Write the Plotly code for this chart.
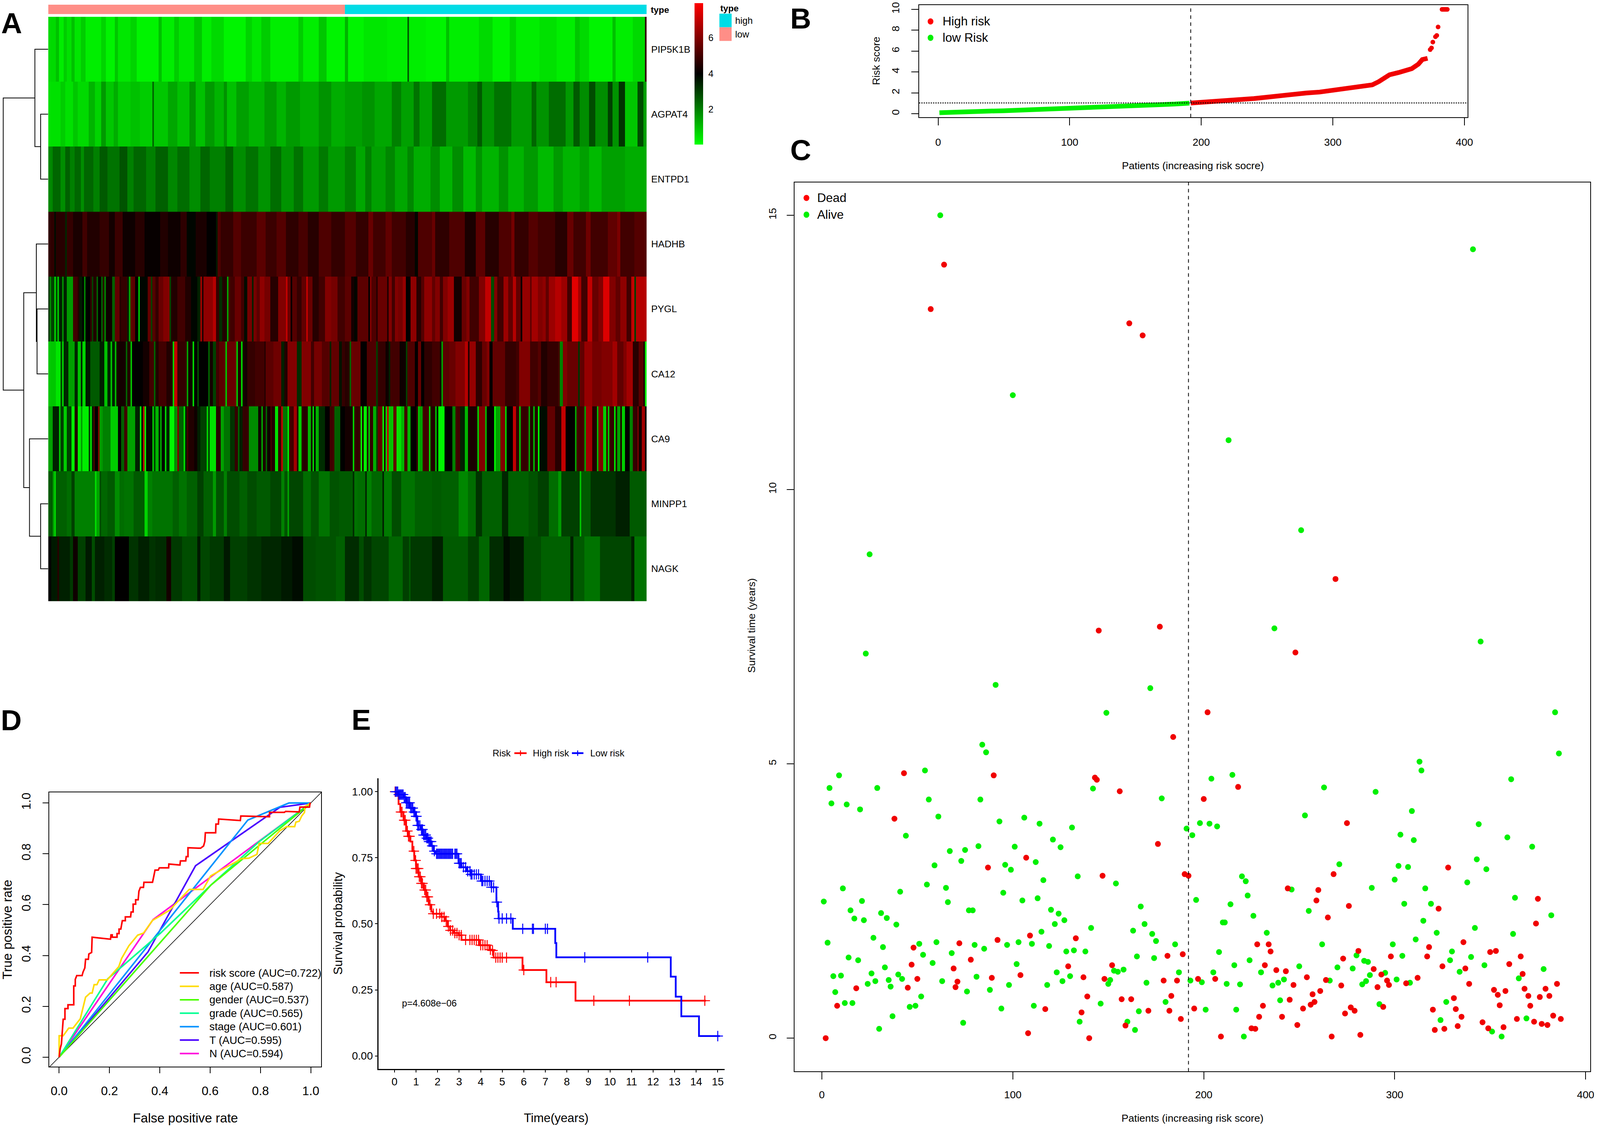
import numpy as np
import plotly.graph_objects as go
from bisect import bisect_right

# positions below are in reference pixels (4433 wide); the browser screen stops at 4096, so the figure is drawn that wide
W, H = 4433, 2882
FIG_W = 4096
FS = 0.95
FONT = "Liberation Sans"

# A: heatmap. Each gene is read as stripes (value, number of patients), low risk half then high risk half
genes = ["PIP5K1B", "AGPAT4", "ENTPD1", "HADHB", "PYGL", "CA12", "CA9", "MINPP1", "NAGK"]
n_low, n_high = 191, 194

pip5k1b_low = [(.6,4),(1,2),(.3,3),(.8,2),(.5,3),(1,2),(.4,4),(.8,3),(.3,10),(.7,3),(.2,6),(.9,2),(.4,8),(.7,4),(.2,14),(1,2),(.3,8),(.8,3),(.4,10),(.9,4),(.3,6),(.6,8),(.2,14),(.7,4),(.4,6),(.8,6),(.3,18),(.8,3),(.3,10),(.9,5),(.2,12)]
pip5k1b_high = [(1.2,1),(.2,10),(.4,14),(.3,12),(2.6,1),(.3,10),(.2,12),(1,2),(.3,18),(.6,8),(.2,10),(.7,4),(.3,14),(.5,10),(.3,12),(.9,2),(.6,6),(.2,14),(1,2),(.3,10),(.6,8),(4.8,1)]
agpat4_low = [(.5,8),(.8,3),(.5,5),(.9,3),(.6,7),(1.2,4),(.7,4),(1.6,3),(.9,6),(1.3,3),(.8,8),(1,6),(.8,8),(2.4,1),(.9,10),(1.4,6),(1,8),(1.7,4),(1,6),(1.6,6),(1.2,6),(1.7,3),(1,6),(1.5,8),(1.2,10),(1.6,8),(1.2,6),(1.6,10),(1.3,12),(1.7,8),(1.3,10)]
agpat4_high = [(1.5,8),(1.7,6),(1.4,8),(2,4),(1.5,6),(2.2,3),(1.5,6),(2.3,7),(1.6,10),(2,5),(2.6,2),(1.7,6),(2.2,8),(1.6,10),(2.4,2),(1.7,6),(2.3,8),(1.6,4),(2.6,3),(1.8,4),(2.8,3),(1.8,6),(3,2),(1.7,3),(3.2,3),(.9,6),(2.8,3),(1.5,2)]
entpd1_low = [(1.9,3),(2.4,5),(1.8,3),(2.5,3),(2,3),(2.4,4),(1.8,2),(2.4,6),(2,4),(2.6,5),(2.2,8),(2.7,6),(2,4),(2.4,8),(2,6),(2.5,8),(1.9,6),(2.3,8),(1.8,8),(2.4,6),(2,10),(2.5,5),(1.8,8),(2.2,8),(1.7,8),(2.3,8),(1.7,8),(2.2,6),(1.6,10),(2.1,6),(1.6,12)]
entpd1_high = [(2,6),(1.4,6),(2,4),(1.5,8),(1.9,6),(1.4,8),(1.9,4),(1.3,10),(1.8,6),(1.2,8),(1.8,6),(1.1,8),(1.7,4),(1.2,10),(1.7,6),(1.2,10),(1.6,8),(1.1,10),(1.6,6),(1.2,10),(1.5,6),(1.1,8),(1.5,14),(1.3,14)]
hadhb_low = [(4.7,4),(3.8,1),(4.6,6),(3.4,1),(4.8,4),(4.4,6),(5,4),(4.5,8),(4.8,6),(4.3,4),(4.9,6),(4.2,8),(4.6,6),(4.1,10),(4.5,6),(4.2,8),(4.7,4),(3.9,6),(4.4,8),(4,6),(3.6,1),(5.2,2),(4.8,8),(5.3,6),(4.9,10),(5.4,6),(4.9,8),(5.3,6),(4.7,8),(5.1,6),(4.6,8),(5.2,8),(4.8,10)]
hadhb_high = [(5.3,6),(4.8,8),(5.6,2),(5,8),(5.5,4),(5,8),(4.6,6),(3.9,2),(5.2,8),(5.6,2),(4.7,8),(5.2,10),(4.4,6),(5.4,6),(4.6,8),(5.2,8),(5.8,2),(4.8,8),(5.3,6),(5,10),(4.6,8),(5.6,3),(5,8),(5.7,3),(5,10),(5.5,6),(5.9,2),(5,8),(5.3,8)]
pygl_low = [(3.3,1),(2,1),(3,2),(.8,1),(3,1),(1,1),(3.5,2),(1.8,1),(3.5,2),(1.6,4),(5,3),(4.5,1),(3.6,2),(4,1),(2,1),(4,3),(4.8,1),(3,1),(4.5,2),(2.5,1),(4,2),(2.5,1),(4.6,1),(2,1),(4.2,4),(2.5,2),(5.5,3),(4.6,1),(4.8,4),(3.5,1),(1.5,1),(5.4,3),(4,2),(1,1),(3.9,5),(5.5,2),(3,1),(5.3,2),(4.8,2),(5.6,3),(6,4),(3,1),(4.5,4),(5,5),(4.5,4),(3.9,4),(3.5,2),(6.5,1),(4.5,1),(6.2,6),(6.8,2),(4.8,2),(3.3,2),(4.5,3),(1.5,1),(5,4),(5.6,4),(5,2),(3.8,2),(5.8,3),(3.5,1),(5.8,2),(5.4,2),(6.2,3),(5.8,2),(5.8,2),(4.6,5),(6,5),(7,1),(5.6,2),(4,1),(5.3,3),(4.8,3),(5.5,3),(7,1),(5.6,3),(4.6,4),(5,4),(6,4),(5.8,4),(5,5)]
pygl_high = [(5.4,4),(4.3,2),(3.9,2),(5.4,7),(4,1),(6,1),(5.2,3),(4.6,1),(5.6,6),(4.5,1),(6,2),(5,2),(6,2),(5.8,3),(6.3,2),(4,3),(6.2,4),(4.6,3),(5.3,2),(6.2,5),(5.5,2),(6,3),(5,2),(6,3),(6.4,4),(4.3,5),(5.6,3),(6,2),(5,6),(6,4),(7,4),(2.8,2),(6,3),(5,4),(6.4,3),(5.5,3),(6.8,2),(5.5,3),(4,1),(6.3,5),(5.5,1),(6.5,4),(6,3),(6.2,2),(5.5,2),(6.4,4),(6.8,4),(6.4,4),(5,3),(7.5,4),(6.5,2),(5,4),(7,3),(5.6,4),(6,3),(7.4,4),(6,4),(5.5,3),(6.2,4),(5,3),(7,2),(3,1),(6.8,8)]
ca12_low = [(.9,4),(.4,3),(3,1),(.8,1),(3.4,3),(1.5,4),(3.4,2),(1,2),(3.5,1),(.7,2),(3.6,3),(2.6,6),(3.5,3),(1,2),(3.4,2),(1,1),(3.5,2),(1.2,1),(4.3,6),(2.5,1),(4.5,2),(1,1),(4,7),(4.3,4),(5,3),(2.5,1),(4.5,2),(5,5),(4.5,4),(.8,1),(7,2),(4.8,6),(1.5,1),(4.2,3),(.7,1),(4,2),(2.8,1),(4,6),(2.5,1),(4.3,2),(3,2),(5,2),(5.4,4),(1,1),(5.6,6),(1,1),(4.5,2),(.7,1),(4.3,3),(4.8,5),(5,6),(4.5,1),(5.4,5),(5.7,5),(3.5,2),(4.5,2),(6,6),(3.3,3),(6,6),(5,2),(5.8,5),(5.3,5),(3.5,1),(5.5,5),(3.7,2),(4.8,2)]
ca12_high = [(4.6,3),(2.5,1),(5.6,6),(4,4),(5.2,6),(3,1),(4.8,5),(4.2,2),(3.5,1),(5,6),(4.2,4),(3,1),(5.2,5),(4,2),(5.6,2),(4,2),(4.7,5),(5,5),(4.2,1),(1.5,1),(5.4,4),(5.6,4),(6,6),(6.8,2),(4.5,1),(6.3,4),(4.7,4),(5.6,3),(6,2),(4,2),(5.5,8),(4.8,7),(5,2),(6,7),(5,5),(5.3,2),(4.5,4),(4.8,7),(5,1),(2,2),(6,3),(5.6,7),(3.2,1),(5.5,3),(6.3,5),(5.8,6),(6,7),(6.5,3),(5.5,4),(6,2),(6.5,4),(4.6,4),(5.4,3),(4.4,1),(.2,1)]
ca9_low = [(1.5,2),(3.5,4),(1,1),(3,2),(.8,2),(3,3),(.3,2),(4.5,2),(.3,2),(1.5,1),(.3,4),(3,1),(.5,1),(3.5,1),(5,1),(4,2),(6,1),(1.6,2),(2,5),(.8,5),(4,2),(2.5,2),(5,2),(1.5,5),(3.5,3),(.3,1),(4,1),(7,1),(.5,1),(3.8,3),(1,1),(3,1),(1.2,2),(3.5,1),(1.5,1),(4,2),(.8,1),(3.5,2),(.1,3),(1.8,2),(6,1),(2.5,3),(.6,1),(3.5,1),(5,1),(4.5,4),(4.2,2),(3.5,2),(3,4),(.8,1),(3,1),(.5,4),(4.6,3),(1.5,2),(2.2,4),(3.2,3),(4.8,2),(2.5,1),(3.5,2),(4.8,3),(1.8,6),(4.2,2),(1.5,1),(4.4,2),(2.5,1),(4.2,2),(5,1),(4.5,2),(.5,2),(4.8,2),(7,1),(2.2,3),(.4,1),(5,3),(6.5,2),(4.5,1),(.8,2),(4.6,4),(1.2,2),(4.3,1),(.8,1),(4,1),(1.3,2),(3.3,4),(4,3),(5,3),(2.5,4),(4,3)]
ca9_high = [(4.3,4),(.8,1),(4.8,4),(.2,1),(4.5,1),(.3,2),(4.5,1),(1,1),(4.8,2),(1.3,2),(3,1),(5.5,3),(.3,1),(4.5,1),(.8,1),(7,1),(1,3),(5.5,2),(.5,3),(1.2,2),(5,2),(1.2,2),(4,4),(4.8,1),(1,1),(1.5,1),(5,4),(.8,1),(4.5,3),(1.2,1),(4,1),(.2,4),(4,5),(2,2),(5,3),(3.5,3),(1.2,2),(4.4,6),(.8,1),(6,4),(1.2,1),(4,5),(.2,1),(1.5,2),(6,3),(.8,1),(4,4),(7,2),(4.8,2),(1,1),(4.8,5),(1.5,1),(4.5,2),(1.2,1),(4.5,2),(.2,1),(3.8,5),(5.5,5),(4.6,4),(7,3),(4,5),(1.5,1),(5,5),(1.5,1),(6.5,4),(4.5,3),(1.2,1),(6,3),(.8,2),(5,1),(1,1),(4.8,3),(.5,1),(4.5,1),(1.5,2),(4.5,1),(.8,2),(4,3),(2,2),(4.8,3),(6,1),(4.3,2),(6.5,2),(4,1)]
minpp1_low = [(2.6,3),(1.5,1),(.7,1),(2.5,7),(2.3,3),(3,2),(2,13),(.6,1),(1.5,2),(2.8,1),(2.4,4),(2.6,5),(1.8,3),(2.3,3),(2.2,6),(2.6,7),(.7,2),(2,3),(2.2,13),(2.5,4),(2.2,5),(2.5,7),(3,5),(2.5,6),(1.6,2),(2.7,5),(2,2),(2.8,8),(2.5,5),(2.8,6),(2.6,9),(2.9,7),(2,2),(2.7,2),(1.5,1),(2.9,4),(2.9,5),(2.3,5),(2.7,5),(2.2,7),(2.7,6),(2.6,5)]
minpp1_high = [(2.6,4),(3.3,1),(2.2,2),(2.3,5),(3.4,1),(2,3),(2.4,7),(3.5,1),(2.1,5),(2.8,6),(2.2,9),(2.5,11),(2.6,6),(2.5,11),(1.9,6),(2.3,5),(3.2,4),(2.5,12),(3.4,4),(2.5,13),(2.7,6),(3,7),(2.3,6),(1.6,2),(3,12),(1,1),(2.6,6),(3.2,16),(3.5,9),(2.6,11)]
nagk_low = [(4,2),(3.6,4),(4.6,1),(3.5,7),(3.1,2),(4.2,3),(3,5),(3.6,4),(2.8,2),(3.5,6),(3.3,5),(3,2),(4,9),(3.2,6),(3.5,7),(3.2,4),(3.3,7),(4.3,3),(3.1,7),(2.8,10),(3.6,2),(2.9,6),(3.1,9),(3.6,4),(3,11),(3.2,9),(3.4,13),(3.6,7),(3.8,7),(2.8,8),(2.7,13),(2.5,7)]
nagk_high = [(3.3,8),(2.8,3),(3.2,5),(2.9,11),(2.4,9),(3,4),(2.6,1),(3.1,14),(3.5,7),(2.6,15),(3,7),(2.4,7),(3.3,9),(3.8,4),(3.6,9),(2.8,11),(2.5,18),(3.5,2),(2.6,7),(2.2,10),(2.9,20),(3.5,2),(2.2,8)]

gene_stripes = [
    (pip5k1b_low, pip5k1b_high), (agpat4_low, agpat4_high), (entpd1_low, entpd1_high),
    (hadhb_low, hadhb_high), (pygl_low, pygl_high), (ca12_low, ca12_high),
    (ca9_low, ca9_high), (minpp1_low, minpp1_high), (nagk_low, nagk_high),
]

# dendrogram merges: (left node, right node, height), new nodes numbered from 9
dendro_merges = [(1,2,21), (0,9,37), (4,5,31), (3,11,33), (7,8,21), (6,13,52), (12,14,68), (10,15,125)]

# B: risk score
risk_low_patient = [1,10,20,30,40,50,60,70,80,90,100,110,120,130,140,150,160,170,180,191]
risk_low_score = [.1,.16,.2,.23,.26,.29,.33,.37,.41,.46,.51,.56,.61,.66,.72,.78,.83,.88,.93,1.02]
risk_high_patient = [192,200,220,240,250,260,270,280,290,300,310,320,330,335,340,343,350,355,360,365,368,372]
risk_high_score = [1.03,1.09,1.28,1.46,1.59,1.75,1.87,1.99,2.08,2.25,2.46,2.58,2.77,3.08,3.45,3.73,3.95,4.13,4.32,4.75,5.19,5.31]
risk_tail_patient = [374,375,376,378,379,380,383,384,385,386,387]
risk_tail_score = [6.14,6.3,6.86,7.38,7.5,8.31,10,10,10,10,10]
risk_cutoff = 1.04
median_patient = 192

# C: survival time per patient (patient, years)
dead_points = [(2,0),(8,.59),(18,.91),(38,4),(43,4.83),(45,.92),(47,1.34),(48,1.65),(50,1.08),(57,13.29),(64,14.1),(69,1.27),(70,.93),(71,1.03),(72,1.73),(78,1.43),(87,3.11),(89,1.1),(90,4.79),(92,1.79),(104,1.15),(107,3.29),(108,.09),(109,1.87),(117,.53),(129,1.31),(133,1.82),(136,.47),(137,1.11),(139,.76),(140,0),(143,4.75),(144,4.71),(145,7.43),(147,2.96),(148,1.08),(152,1.33),(156,4.5),(157,.71),(159,.23),(161,13.03),(162,.71),(168,12.81),(171,.5),(176,3.54),(177,7.5),(179,1.05),(181,1.5),(182,.5),(183,.77),(184,5.49),(186,1.05),(188,.35),(189,1.53),(190,2.99),(192,2.96),(195,.54),(197,1.08),(200,4.36),(202,5.94),(206,1.08),(209,.03),(218,4.58),(225,.18),(227,.17),(228,1.71),(229,.39),(231,.59),(232,1.33),(234,1.71),(235,1.58),(238,1.24),(241,.39),(243,1.22),(244,2.73),(245,.7),(247,.97),(248,7.03),(249,.24),(252,.54),(254,1.11),(256,.61),(257,.8),(258,.66),(259,2.51),(260,2.7),(261,.86),(264,1.06),(265,2.2),(267,.03),(268,2.99),(269,8.37),(272,.96),(273,1.45),(274,.45),(275,3.92),(276,2.41),(277,.56),(279,.5),(281,1.59),(282,.06),(289,1.26),(291,.93),(293,1.16),(294,.57),(296,1.05),(297,.97),(298,1.49),(306,1),(312,1.1),(317,1.49),(318,1.66),(320,.52),(321,.15),(323,2.36),(325,1.31),(326,.17),(328,3.11),(331,.73),(332,.53),(333,.22),(335,.39),(336,1.75),(337,1.27),(339,.99),(346,.29),(349,.18),(350,1.57),(352,.88),(353,1.59),(354,.79),(355,.6),(357,.2),(358,.86),(360,1.35),(364,.35),(366,1.49),(367,1.17),(368,.9),(370,.77),(371,.59),(373,.3),(374,2.09),(375,2.54),(376,.75),(377,.26),(379,.9),(380,.24),(381,.77),(383,.41),(385,.99),(387,.35)]
alive_points = [(1,2.49),(3,1.74),(4,4.56),(5,4.28),(6,1.13),(7,.84),(9,4.79),(10,1.14),(11,2.73),(12,.64),(13,4.26),(14,1.47),(15,2.33),(16,.64),(17,2.18),(19,1.42),(20,4.17),(21,2.5),(22,2.15),(23,7.01),(24,.99),(25,8.82),(26,1.18),(27,1.83),(28,1.04),(29,4.56),(30,.17),(31,2.28),(32,1.66),(33,1.29),(34,2.19),(35,1.06),(36,.94),(37,.4),(39,2.07),(40,1.16),(41,2.67),(42,1.08),(44,3.69),(46,.57),(49,.59),(51,1.72),(52,.76),(53,1.52),(54,4.88),(55,2.8),(56,4.35),(58,1.37),(59,3.15),(60,1.75),(61,4.04),(62,15),(63,1.04),(65,2.74),(66,2.48),(67,3.41),(68,1.55),(73,3.23),(74,.28),(75,3.43),(76,.85),(77,2.33),(79,2.33),(80,1.7),(81,1.12),(82,3.5),(83,4.35),(84,5.35),(85,1.63),(86,5.21),(88,.88),(91,6.44),(93,3.95),(94,.54),(95,2.65),(96,3.16),(97,1.7),(98,.97),(99,3.07),(100,11.72),(101,3.49),(102,1.35),(103,1.75),(105,2.51),(106,4.02),(110,1.72),(111,.59),(112,3.21),(113,2.55),(114,3.91),(115,1.94),(116,2.88),(118,.97),(119,1.68),(120,2.34),(121,3.62),(122,2.08),(123,1.2),(124,2.27),(125,3.48),(126,1.04),(127,2.15),(128,1.58),(130,1.13),(131,3.84),(132,1.6),(134,2.95),(135,.3),(138,1.58),(141,2.01),(142,4.55),(146,.63),(149,5.93),(150,.99),(151,1.06),(153,1.23),(154,2.82),(155,1.21),(158,1.25),(160,.3),(163,1.96),(164,.15),(165,1.49),(166,.49),(167,2.4),(169,2.08),(170,1.01),(172,6.38),(173,1.9),(174,1.46),(175,1.77),(178,4.37),(180,.66),(185,1.71),(187,1.2),(191,3.82),(193,1.05),(194,3.7),(196,2.52),(198,3.92),(199,1.02),(201,.52),(203,3.91),(204,4.73),(205,1.2),(207,3.86),(208,1.57),(210,2.11),(211,2.11),(212,.99),(213,10.9),(214,2.44),(215,4.8),(216,1.33),(217,.52),(219,.98),(220,2.95),(221,.03),(222,2.86),(223,2.6),(224,1.42),(226,2.23),(230,1.2),(233,1.92),(236,.96),(237,7.47),(239,1.01),(240,.69),(242,1.07),(246,2.71),(250,1.31),(251,9.26),(253,4.06),(255,2.32),(262,1.71),(263,4.57),(266,1.05),(270,1.29),(271,3.17),(278,1.27),(280,1.51),(283,.98),(284,1.41),(285,1.04),(286,1.39),(287,1.15),(288,2.74),(290,4.49),(292,.62),(295,1.19),(299,1.71),(300,2.89),(301,1.07),(302,3.14),(303,3.71),(304,1.5),(305,2.45),(307,3.12),(308,1.01),(309,4.14),(310,3.61),(311,1.8),(313,5.04),(314,4.88),(315,2.14),(316,2.73),(319,2.45),(322,1.92),(324,.33),(327,.66),(329,1.42),(330,1.58),(334,1.21),(338,2.84),(340,1.48),(341,14.38),(342,2.01),(343,3.26),(344,3.9),(345,7.23),(347,1.33),(348,3.08),(351,.12),(356,.03),(359,3.66),(361,4.72),(362,1.9),(363,2.56),(365,1.09),(369,.36),(372,3.49),(378,1.26),(382,2.24),(384,5.94),(386,5.19)]

# D: ROC curves
roc_names = ["risk score (AUC=0.722)", "age (AUC=0.587)", "gender (AUC=0.537)", "grade (AUC=0.565)",
             "stage (AUC=0.601)", "T (AUC=0.595)", "N (AUC=0.594)"]
roc_colors = ["#FF0000", "#FFDB00", "#49FF00", "#00FF92", "#0092FF", "#4900FF", "#FF00DB"]
roc_risk_fpr = [0,.004,.009,.013,.016,.023,.023,.035,.035,.058,.058,.064,.064,.07,.091,.095,.102,.105,.116,.118,.129,.131,.204,.206,.211,.211,.23,.23,.238,.238,.245,.248,.251,.263,.263,.284,.286,.294,.294,.304,.304,.314,.317,.323,.335,.337,.371,.376,.381,.394,.398,.435,.436,.48,.482,.503,.505,.512,.512,.562,.574,.579,.581,.622,.623,.633,.634,.72,.722,.836,.836,.895,.9,.954,.957,.995,.997,1]
roc_risk_tpr = [0,.033,.052,.102,.149,.149,.191,.191,.206,.206,.28,.28,.306,.321,.321,.335,.351,.385,.385,.406,.412,.472,.464,.481,.481,.472,.472,.486,.486,.504,.504,.52,.537,.537,.552,.552,.571,.571,.602,.602,.619,.619,.653,.668,.668,.688,.688,.711,.736,.736,.745,.745,.76,.756,.772,.772,.789,.789,.824,.822,.831,.849,.883,.883,.917,.917,.937,.931,.949,.946,.963,.963,.967,.965,.984,.984,.999,1]
roc_age_fpr = [0,0,.016,.038,.055,.084,.105,.123,.131,.139,.15,.159,.191,.237,.248,.277,.312,.335,.371,.439,.471,.517,.572,.602,.645,.704,.722,.754,.786,.795,.831,.877,.904,.936,.941,.954,.964,.975,.977,1]
roc_age_tpr = [0,.084,.084,.114,.114,.151,.236,.252,.252,.285,.285,.304,.304,.356,.388,.438,.48,.488,.538,.578,.612,.66,.66,.713,.737,.769,.781,.783,.798,.841,.841,.891,.907,.907,.925,.928,.949,.963,.986,1]
roc_gender_fpr = [0,.603,1]
roc_gender_tpr = [0,.677,1]
roc_grade_fpr = [0,.193,.403,.603,.795,1]
roc_grade_tpr = [0,.308,.488,.677,.848,1]
roc_stage_fpr = [0,.75,.913,1]
roc_stage_tpr = [0,.933,1,1]
roc_t_fpr = [0,.353,.542,.877,1]
roc_t_tpr = [0,.414,.753,.983,1]
roc_n_fpr = [0,.373,1]
roc_n_tpr = [0,.541,1]
roc_fpr = [roc_risk_fpr, roc_age_fpr, roc_gender_fpr, roc_grade_fpr, roc_stage_fpr, roc_t_fpr, roc_n_fpr]
roc_tpr = [roc_risk_tpr, roc_age_tpr, roc_gender_tpr, roc_grade_tpr, roc_stage_tpr, roc_t_tpr, roc_n_tpr]

# E: Kaplan-Meier
high_time = [0,.1,.19,.27,.42,.54,.62,.74,.83,.92,1,1.12,1.24,1.36,1.47,1.59,1.71,1.79,2.18,2.35,2.47,2.58,2.76,2.99,3.11,3.93,4.4,4.54,4.6,5.94,7.05,8.4,14.45]
high_surv = [1,.99,.953,.923,.892,.851,.831,.811,.775,.74,.709,.678,.653,.628,.602,.572,.546,.538,.526,.511,.49,.475,.465,.457,.439,.419,.402,.399,.372,.325,.279,.209,.209]
high_censor = [.03,.3,.35,.45,.5,.6,.65,.7,.9,.98,1,1.05,1.1,1.15,1.2,1.25,1.3,1.4,1.45,1.5,1.55,1.65,1.8,1.95,2.1,2.2,2.3,2.4,2.5,2.6,2.7,2.8,2.9,3,3.1,3.3,3.5,3.6,3.7,3.8,3.9,4,4.1,4.2,4.3,4.45,4.55,4.7,4.8,4.9,5,5.2,6,7.25,7.5,9.25,10.9,14.4]
low_time = [0,.19,.42,.54,.71,.89,1,1.06,1.24,1.32,1.47,1.59,1.71,1.82,1.9,2.97,3.11,3.35,3.54,4.01,4.49,4.73,4.81,4.83,5.49,7.46,7.51,12.82,13.05,13.31,14.13,15.1]
low_surv = [1,.989,.979,.958,.938,.923,.907,.872,.857,.836,.824,.811,.795,.775,.765,.729,.714,.699,.687,.662,.638,.582,.546,.52,.481,.427,.373,.3,.224,.15,.075,.075]
low_censor = [.05,.1,.15,.2,.25,.3,.35,.4,.45,.5,.55,.6,.65,.7,.75,.8,.85,.9,.95,1,1.02,1.08,1.12,1.18,1.25,1.3,1.35,1.4,1.45,1.5,1.55,1.6,1.65,1.7,1.75,1.85,1.95,2,2.05,2.1,2.15,2.2,2.25,2.3,2.35,2.4,2.45,2.5,2.55,2.6,2.65,2.7,2.8,2.85,2.9,3,3.05,3.1,3.2,3.3,3.4,3.5,3.55,3.6,3.7,3.8,3.9,4.05,4.1,4.2,4.3,4.4,4.5,4.6,4.75,4.85,5,5.2,5.4,5.95,6.4,6.45,7,7.1,8.83,11.75,15]


def spread(stripes, n):
    # expand (value, width) stripes to n columns
    cells = np.repeat([s[0] for s in stripes], [s[1] for s in stripes])
    return cells[(np.arange(n) * len(cells) / n).astype(int)].tolist()


def surv_at(times, surv, t):
    return surv[max(bisect_right(times, t) - 1, 0)]


def xdom(a, b):
    return [a / W, b / W]


def ydom(top, bottom):
    return [1 - bottom / H, 1 - top / H]


def fnt(size):
    return dict(size=round(size * FS, 1), color="black", family=FONT)


def txt(x, y, text, size, anchor="left", angle=0, bold=False):
    fig.add_annotation(x=x / W, y=1 - y / H, xref="paper", yref="paper", text=f"<b>{text}</b>" if bold else text,
                       showarrow=False, xanchor=anchor, yanchor="middle", textangle=angle, font=fnt(size))


def dot(x, y, color, r):
    fig.add_shape(type="circle", xref="paper", yref="paper", x0=(x - r) / W, x1=(x + r) / W,
                  y0=1 - (y + r) / H, y1=1 - (y - r) / H, fillcolor=color, line_width=0)


def paper_line(x0, y0, x1, y1, color="black", width=2):
    fig.add_shape(type="line", xref="paper", yref="paper", x0=x0 / W, x1=x1 / W, y0=1 - y0 / H, y1=1 - y1 / H,
                  line=dict(color=color, width=width))


fig = go.Figure()

# A
heat_z = [spread(low, n_low) + spread(high, n_high) for low, high in gene_stripes]
fig.add_trace(go.Heatmap(z=[[0] * n_low + [1] * n_high], xaxis="x", yaxis="y", showscale=False, hoverinfo="skip",
                         colorscale=[[0, "#FF8E87"], [.5, "#FF8E87"], [.5, "#00DCE6"], [1, "#00DCE6"]], zmin=0, zmax=1))
fig.add_trace(go.Heatmap(z=heat_z, xaxis="x2", yaxis="y2", zmin=.03, zmax=7.95,
                         colorscale=[[0, "#00FF00"], [.5, "#000000"], [1, "#FF0000"]],
                         colorbar=dict(x=1931 / W, xanchor="left", y=1 - 363 / H, yanchor="bottom",
                                       lenmode="pixels", len=362, thickness=22, thicknessmode="pixels",
                                       outlinewidth=0, xpad=0, ypad=0, tickvals=[2, 4, 6], ticks="outside",
                                       ticklen=9, tickcolor="white", tickfont=fnt(25))))

node_y = {i: float(i) for i in range(9)}
node_h = {i: 0 for i in range(9)}
dx, dy = [], []
for k, (a, b, h) in enumerate(dendro_merges):
    dx += [node_h[a], h, h, node_h[b], None]
    dy += [node_y[a], node_y[a], node_y[b], node_y[b], None]
    node_y[9 + k] = (node_y[a] + node_y[b]) / 2
    node_h[9 + k] = h
fig.add_trace(go.Scatter(x=dx, y=dy, xaxis="x3", yaxis="y3", mode="lines", line=dict(color="black", width=2)))

# B
fig.add_trace(go.Scatter(x=risk_low_patient, y=risk_low_score, xaxis="x4", yaxis="y4", mode="lines",
                         line=dict(color="#00F000", width=12)))
fig.add_trace(go.Scatter(x=risk_high_patient, y=risk_high_score, xaxis="x4", yaxis="y4", mode="lines",
                         line=dict(color="#F00000", width=12)))
fig.add_trace(go.Scatter(x=risk_tail_patient, y=risk_tail_score, xaxis="x4", yaxis="y4", mode="markers",
                         marker=dict(color="#F00000", size=12)))

# C
for points, color in [(alive_points, "#00F000"), (dead_points, "#F00000")]:
    fig.add_trace(go.Scatter(x=[p[0] for p in points], y=[p[1] for p in points], xaxis="x5", yaxis="y5",
                             mode="markers", marker=dict(color=color, size=15)))

# D
fig.add_trace(go.Scatter(x=[-1, 2], y=[-1, 2], xaxis="x6", yaxis="y6", mode="lines", line=dict(color="black", width=1.5)))
for i in reversed(range(len(roc_names))):
    fig.add_trace(go.Scatter(x=roc_fpr[i], y=roc_tpr[i], xaxis="x6", yaxis="y6", mode="lines",
                             line=dict(color=roc_colors[i], width=4)))

# E
for times, surv, censor, color in [(high_time, high_surv, high_censor, "#FF0000"),
                                   (low_time, low_surv, low_censor, "#0000FF")]:
    fig.add_trace(go.Scatter(x=times, y=surv, xaxis="x7", yaxis="y7", mode="lines",
                             line=dict(color=color, width=4.5, shape="hv")))
    fig.add_trace(go.Scatter(x=censor, y=[surv_at(times, surv, t) for t in censor], xaxis="x7", yaxis="y7", mode="markers",
                             marker=dict(symbol="cross-thin", size=19, line=dict(color=color, width=2.5))))

hidden = dict(visible=False)


def box_axis(domain, rng, vals, size, ticklen, standoff, anchor, **kw):
    return dict(domain=domain, range=rng, tickvals=vals, anchor=anchor, showline=True, mirror=True, linecolor="black",
                linewidth=2, ticks="outside", ticklen=ticklen, tickwidth=2, tickcolor="black", showgrid=False, zeroline=False,
                ticklabelstandoff=standoff, ticklabeloverflow="allow", tickfont=fnt(size), **kw)


fig.update_layout(
    width=FIG_W, height=H, margin=dict(l=0, r=0, t=0, b=0), showlegend=False, plot_bgcolor="white", paper_bgcolor="white",
    xaxis=dict(domain=xdom(134, 1798), anchor="y", **hidden),
    yaxis=dict(domain=ydom(4, 28), anchor="x", **hidden),
    xaxis2=dict(domain=xdom(134, 1798), anchor="y2", **hidden),
    yaxis2=dict(domain=ydom(35, 1535), anchor="x2", range=[8.5, -.5], **hidden),
    xaxis3=dict(domain=xdom(0, 134), range=[134, 0], anchor="y3", **hidden),
    yaxis3=dict(domain=ydom(35, 1535), range=[8.5, -.5], anchor="x3", **hidden),
    xaxis4=box_axis(xdom(2555, 4080), [-14.5, 402.4], [0, 100, 200, 300, 400], 28, 19, 20, "y4"),
    yaxis4=box_axis(ydom(5, 293), [-.336, 10.41], [0, 2, 4, 6, 8, 10], 28, 18, 20, "x4", tickangle=-90),
    xaxis5=box_axis(xdom(2209, 4421), [-14.3, 402.4], [0, 100, 200, 300, 400], 28, 19, 16, "y5"),
    yaxis5=box_axis(ydom(460, 2742), [-.607, 15.6], [0, 5, 10, 15], 28, 18, 16, "x5", tickangle=-90),
    xaxis6=box_axis(xdom(136.5, 893), [-.04, 1.0415], [0, .2, .4, .6, .8, 1], 33, 15, 18, "y6", tickformat=".1f"),
    yaxis6=box_axis(ydom(2026, 2730), [-.038, 1.0414], [0, .2, .4, .6, .8, 1], 33, 15, 18, "x6", tickformat=".1f", tickangle=-90),
    xaxis7=dict(domain=xdom(1052, 2014), range=[-.746, 15.31], anchor="y7", tickvals=list(range(16)), showline=True,
                linecolor="black", linewidth=2.5, ticks="outside", ticklen=6, tickwidth=2, tickcolor="black", showgrid=False,
                zeroline=False, tickfont=fnt(29)),
    yaxis7=dict(domain=ydom(1990, 2736), range=[-.05, 1.05], anchor="x7", tickvals=[0, .25, .5, .75, 1], tickformat=".2f",
                showline=True, linecolor="black", linewidth=2.5, ticks="outside", ticklen=6, tickwidth=2, tickcolor="black",
                showgrid=False, zeroline=False, tickfont=fnt(29)),
)

# dashed reference lines
fig.add_shape(type="line", xref="x4", yref="y4 domain", x0=median_patient, x1=median_patient, y0=0, y1=.97,
              line=dict(color="black", width=2, dash="dash"))
fig.add_shape(type="line", xref="x4 domain", yref="y4", x0=0, x1=1, y0=risk_cutoff, y1=risk_cutoff,
              line=dict(color="black", width=2.5, dash="dot"))
fig.add_shape(type="line", xref="x5", yref="y5 domain", x0=median_patient, x1=median_patient, y0=0, y1=1,
              line=dict(color="black", width=2, dash="dash"))

# panel letters
for letter, x, y in [("A", 33, 52), ("B", 2226, 40), ("C", 2226, 378), ("D", 32, 1841), ("E", 1004, 1840)]:
    txt(x, y, letter, 78, anchor="center", bold=True)

# A labels
row_top, row_h = 35, 1500 / 9
for i, gene in enumerate(genes):
    txt(1808, row_top + row_h * (i + .5), gene, 26)
txt(1807, 17, "type", 24, bold=True)
txt(2000, 13, "type", 24, bold=True)
fig.add_shape(type="rect", xref="paper", yref="paper", x0=2000 / W, x1=2034 / W, y0=1 - 62 / H, y1=1 - 27 / H,
              fillcolor="#00DCE6", line_width=0)
fig.add_shape(type="rect", xref="paper", yref="paper", x0=2000 / W, x1=2034 / W, y0=1 - 97 / H, y1=1 - 62 / H,
              fillcolor="#FF8E87", line_width=0)
txt(2042, 45, "high", 25)
txt(2042, 80, "low", 25)

# B labels
dot(2587, 47, "#FF0000", 8)
dot(2587, 89, "#00F000", 8)
txt(2618, 47, "High risk", 33)
txt(2618, 89, "low Risk", 33)
txt(2435, 148, "Risk score", 28, anchor="center", angle=-90)
txt(3317, 417, "Patients (increasing risk socre)", 28, anchor="center")

# C labels
dot(2242, 500, "#FF0000", 8)
dot(2242, 543, "#00F000", 8)
txt(2270, 500, "Dead", 33)
txt(2270, 543, "Alive", 33)
txt(2089, 1598, "Survival time (years)", 28, anchor="center", angle=-90)
txt(3316, 2862, "Patients (increasing risk score)", 28, anchor="center")

# D labels
for i, name in enumerate(roc_names):
    y = 2489 + 34.5 * i
    paper_line(500, y, 553, y, roc_colors[i], 4)
    txt(580, y, name, 29)
txt(515, 2861, "False positive rate", 35, anchor="center")
txt(20, 2378, "True positive rate", 35, anchor="center", angle=-90)

# E labels
txt(1367, 1925, "Risk", 25)
for x0, x1, color, name, tx in [(1430, 1464, "#FF0000", "High risk", 1479), (1590, 1622, "#0000FF", "Low risk", 1639)]:
    paper_line(x0, 1925, x1, 1925, color, 4.5)
    paper_line((x0 + x1) / 2, 1918, (x0 + x1) / 2, 1932, color, 2.5)
    txt(tx, 1925, name, 25)
txt(1546, 2861, "Time(years)", 33, anchor="center")
txt(940, 2362, "Survival probability", 33, anchor="center", angle=-90)
txt(1115, 2567, "p=4.608e\u221206", 25)

fig.write_html("out.html", config={"displayModeBar": False}, post_script="document.body.style.margin='0';")
